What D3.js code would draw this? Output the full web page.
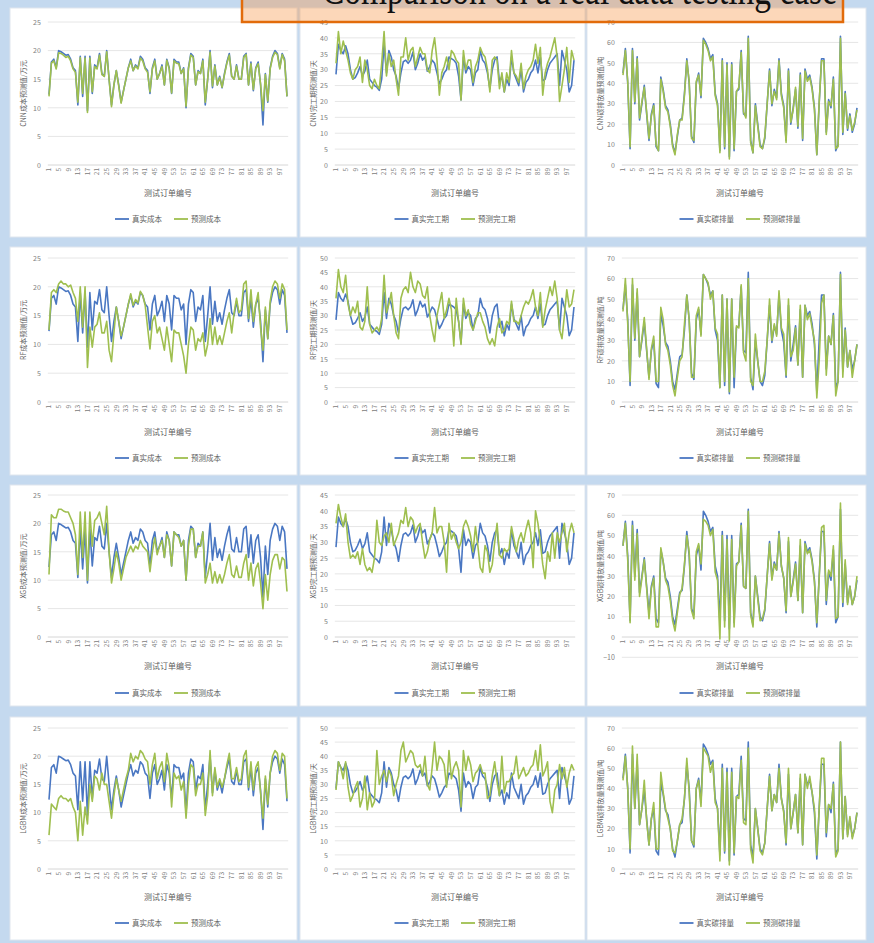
<!DOCTYPE html>
<html>
<head>
<meta charset="utf-8">
<script src="https://cdn.jsdelivr.net/npm/d3@7"></script>
<style>
  body { margin: 0; background: #c4d9ef; }
  svg { display: block; }
</style>
</head>
<body>
<svg id="chart" width="874" height="943"></svg>
<script>
// ---- categories and tick labels ----
const orderIds = d3.range(1, 101);
const xTickLabels = [1,5,9,13,17,21,25,29,33,37,41,45,49,53,57,61,65,69,73,77,81,85,89,93,97];
const models = ["CNN", "RF", "XGB", "LGBM"];
const metricNames = ["成本", "完工期", "碳排放量"];
const metricUnits = ["/万元", "/天", "/吨"];
const legendActual = ["真实成本", "真实完工期", "真实碳排量"];
const legendPred = ["预测成本", "预测完工期", "预测碳排量"];
const xAxisTitle = "测试订单编号";
const chartTitle = "Comparison on a real data testing case";

// y domains per [row][column]
const yDomains = [
  [[0, 25], [0, 45], [0, 70]],
  [[0, 25], [0, 50], [0, 70]],
  [[0, 25], [0, 45], [-10, 70]],
  [[0, 25], [0, 50], [0, 70]]
];
const yTickSteps = [5, 5, 10];

// ---- actual values (shared by all models) ----
const costActual = [12.3,18,18.5,17,20,19.8,19.5,19.2,19.3,18.5,17,16.5,10.5,19,12,19,9.5,19,12.5,17.5,17,19.5,16,15.5,20,15,10.5,14,16.5,14,11,13,15,17,18.5,16.5,17.5,17,19,18.5,17,16.5,12.5,17,18.5,15,16,17.5,14,18.5,17,12.5,18.5,18,18,16,17,10,17,19.5,19,14,16.5,16,18.5,10.5,15,20,13.5,17.5,14,15.5,13.5,16,18,19.5,15.5,15,17.5,15,15,19,19.5,14,18,13,17,18,14,7,16,11,17,19,20,19.5,17,19.5,18.5,12];
const durationActual = [28.5,38,36,35,37.5,35,30,27,27.5,29,31,28,29.5,33,27,26,25,24.5,23.5,27,38,29,36,34,30,28,24,29,32.5,33,32,33,35.5,30,32,35,33,34,29.5,31,33,32,29,25.5,27,29,30,34,33.5,33,32,28,20.5,34,29,31,30,25,29,30,36,33,32,29,24,30,33,34,26,28,23,27,25,34,29,27,25,30,23,26,27,29,30,33,29,34,26.5,27,30,32,33,34,35,25,36,33,30,23,25,33];
const carbonActual = [45,57,40,8,57,30,53,22,30,39,25,12,25,30,9,7,43,37,29,27,20,10,6,14,22,23,35,52,40,14,11,40,45,33,62,60,57,52,54,35,30,7,52,8,50,4,50,7,36,37,56,25,24,63,12,6,30,20,10,8,13,30,47,29,37,33,52,35,29,12,47,20,28,37,18,45,12,47,42,44,38,28,5,30,52,52,16,32,28,43,7,10,63,15,36,17,25,16,20,28];

// ---- predicted cost ----
const costCNN = [12,17.8,18.2,16.8,19.6,19.5,19.2,18.8,19,18.2,16.8,16.2,11,18.8,12.5,18.7,9.2,18.7,12.8,17.2,16.8,19.2,15.8,15.5,19.8,15,10.2,14,16.5,13.8,10.8,13,15,17,18.2,16.5,17.3,16.8,18.7,18.2,16.8,16.2,12.8,16.8,18.2,15,16,17.2,14,18.3,16.8,12.6,18.2,17.8,17.7,16,16.8,10.3,16.8,19.2,18.8,14,16.3,16,18.2,11,15,19.7,13.8,17.3,14,15.3,13.6,15.8,17.8,19.2,15.5,15,17.3,15,15,18.8,19.3,14,17.7,13.2,16.8,17.7,14.2,9.5,15.8,11.2,16.8,18.8,19.7,19.3,16.8,19.3,18.2,12];
const costRF = [12.5,19,19.5,19,20.5,21,20.5,20.5,20,20.3,19,18,14,20,13,20,6,13,9.5,13,13.5,15.5,12,12,14,9,7,12,16.5,14,11.5,13,15,17,18.8,16.8,17.8,17.2,19.2,18.5,16.8,13,9.2,14,15,12,13,11,9,13,10,7,12.5,12,12,10,8,5,10,13,12.5,9,11,10.5,12,8,10,14.5,10,13,10,11.5,10,12,14,15.5,12,15.5,18,15.5,16,20.5,21,14.5,19.5,14,17,19,13,9,16.5,11,17.5,20,21,20.5,18,20.5,19.5,12.5];
const costXGB = [11,21.5,21,21,22.5,22.5,22.2,22,22,21,20,18,11,22,14,22,10,22,16,20.5,21,22,20,18,23,15,9.5,12,15,13,10,12,14,15,16,15,16,15.5,17,16,15.5,15,11.5,15,17.5,14.5,16,17,14,18,17,12.5,18.5,18,17.5,16,17,10,16,19,19,14,16,16,18.5,9.5,11,13,9.5,11.5,9.5,11,9.5,11,13,14.5,11,10.5,12.5,10.5,10.5,13,14.5,10,13,9,12,13,9.5,5,11,6.5,11,13.5,14.5,14.5,12,14,13.5,8];
const costLGBM = [6,11.5,11,10.5,12.5,13,12.5,12.5,12,12.5,11,10,5,12,6,11,8,15,12,16.5,16,14,17,15,15,12,9,13,16,14,12,14,16,17.5,20.5,19,20,19.5,21,20.5,19.5,19,15,18.5,20.5,16,18,19,15.5,20.5,18,11,17,16,16.5,14,15.5,9,15,18.5,18,13,15,15,17,9.5,13,21,13,18,14.5,16,14.5,16,18.5,20.5,16,16,18,15.5,16,20,21,14.5,19,14,18,19,13.5,9,16.5,11.5,17,20,21,20.5,17.5,20.5,20,12.5];

// ---- predicted duration ----
const durationCNN = [32,42,35,39,36,33,29,27,30,31,34,26,33,30,25,24,27,25,24,32,42,28,35,31,33,27,22,34,34,40,33,36,37,31,34,37,35,35,30,29,36,40,33,22,29,31,34,30,36,35,33,32,20.5,36,30,33,33,26,31,33,37,35,34,30,23,33,34,33,24,29,23,29,26,36,29,28,26,32,24,28,30,31,33,38,32,37,22,29,32,34,37,40,34,20,25,30,37,26,36,33];
const durationRF = [36,46,40,38,44,34,30,33,31,35,26,25,28,40,27,24,25,26,24.5,29,44,31,34,38,30,24,22,36,39,40,38,45,40,38,42,41,37,36,40,30,25,21,30,34,38,29,32,36,32,19.5,36,28,20,36,30,32,27,25,28,31,31,28,26,22,20,22,19.5,26,29,24,25,28,27,35,28,28,27,30,33,35,34,36,39,33,30,38,26,32,36,40,37,42,36,25,22,30,39,33,34,39];
const durationXGB = [36,42,38,35,39,30,25,26,25,27,23,28,23,21,22,20.5,25,37,30,29,32,33,30,36,29,31,33,37,36,41,35,38,37,33,35,36,30,25,27,31,33,41,33,35,35,30,20.5,36,31,33,30,28,30,35,37,35,32,27,35,29,22,20.5,29,27,20.5,23,30,36,26,25,28,27,28,35,31,27,31,33,30,34,37,33,22,40,36,30,23,18.5,27,24,33,25,33,30,33,36,27,33,36,33];
const durationLGBM = [28,38,36,32,38,29,24,26,29,31,22,25,33,21,27,22,24,42,30,33,35,31,35,33,26,30,33,42,45,38,40,42,41,37,36,37,33,40,30,28,36,45,35,40,39,37,29,42,32,36,38,35,22,42,35,40,37,31,34,35,37,34,34,25,26,33,38,31,26,40,27,31,31,33,34,40,32,34,36,33,34,36,37,42,35,44,33,35,38,24,20,28,30,37,32,36,29,34,37,35];

// ---- predicted carbon emission ----
const carbonCNN = [44,56,41,9,56,31,52,23,31,38,26,13,24,29,10,7,42,36,28,26,19,9,5,15,22,22,34,51,41,13,12,41,44,34,61,59,56,51,53,34,29,6,51,9,49,3,49,8,36,38,55,26,23,62,11,6,29,19,9,8,14,30,46,30,36,32,51,34,28,11,46,21,27,38,19,44,13,46,41,43,37,27,5,31,51,51,15,31,29,42,8,9,62,16,35,18,24,17,21,27];
const carbonRF = [44,60,38,10,60,31,55,22,31,41,26,11,26,32,10,10,46,40,28,25,18,8,3,12,20,22,38,52,40,12,12,42,46,32,62,60,58,50,54,36,33,7,52,10,50,5,50,12,37,36,57,24,20,60,10,8,33,20,10,10,15,30,50,30,38,32,54,36,33,13,50,22,25,36,18,47,12,47,40,43,36,30,2,20,48,52,13,32,28,42,3,10,62,12,35,17,25,12,20,28];
const carbonXGB = [45,56,38,7,55,28,51,20,29,38,24,9,24,29,5,5,44,37,28,25,18,8,3,12,21,24,36,50,42,13,9,42,46,36,58,57,55,50,53,32,28,-1,50,5,48,-2,48,5,35,37,55,25,24,62,11,5,30,19,8,9,14,30,46,28,36,33,51,35,29,13,49,20,27,36,18,48,12,46,41,43,37,27,7,29,54,55,18,33,30,45,9,10,66,17,38,16,25,16,20,30];
const carbonLGBM = [44,56,40,10,61,30,57,22,30,44,24,12,25,33,10,10,48,38,30,25,20,9,8,14,22,25,35,55,38,14,12,40,44,31,60,58,56,48,53,33,30,4,50,9,48,2,48,8,36,35,54,23,22,60,10,3,30,20,9,7,13,30,46,29,37,33,50,35,28,13,50,20,28,37,18,47,12,47,40,46,38,30,7,30,55,55,18,32,30,42,6,9,63,15,36,16,26,15,20,28];

const actualByMetric = [costActual, durationActual, carbonActual];
const predicted = [
  [costCNN, durationCNN, carbonCNN],
  [costRF, durationRF, carbonRF],
  [costXGB, durationXGB, carbonXGB],
  [costLGBM, durationLGBM, carbonLGBM]
];

// ---- layout ----
const W = 874, H = 943;
const colX = [10, 300, 587], colW = [287, 285, 279];
const rowY = [8, 247, 485, 717], rowH = [229, 228, 221, 223];
const plotTopBot = [[14, 157], [11, 155], [10, 152], [11, 152]];
const plotLeftRight = [[39, 277], [36, 274], [36, 270]];
const xTitleY = [185, 185, 181, 180];
const legendY = [211, 211, 208, 206];

const BLUE = "#4a77c2", GREEN = "#9fbf4f";
const CJK = "'Noto Sans CJK SC', 'Noto Sans', sans-serif";

const svg = d3.select("#chart");
svg.append("rect").attr("width", W).attr("height", H).attr("fill", "#c4d9ef");

models.forEach((model, r) => {
  metricNames.forEach((metric, c) => {
    const g = svg.append("g").attr("transform", `translate(${colX[c]},${rowY[r]})`);
    g.append("rect")
      .attr("width", colW[c]).attr("height", rowH[r])
      .attr("fill", "#ffffff").attr("stroke", "#dfe6ee").attr("stroke-width", 1);

    const [top, bot] = plotTopBot[r];
    const [dMin, dMax] = yDomains[r][c];
    const x = d3.scalePoint().domain(orderIds).range(plotLeftRight[c]);
    const y = d3.scaleLinear().domain([0, dMax]).range([bot, top]);
    const half = x.step() / 2;
    const pL = x(1) - half, pR = x(100) + half;
    const tickVals = d3.range(dMin, dMax + 0.001, yTickSteps[c]);

    // horizontal gridlines
    g.append("g").selectAll("line").data(tickVals).join("line")
      .attr("x1", pL).attr("x2", pR)
      .attr("y1", d => y(d)).attr("y2", d => y(d))
      .attr("stroke", d => d === 0 ? "#d6d6d6" : "#e6e6e6")
      .attr("stroke-width", 1);

    // y tick labels
    const yAxis = d3.axisLeft(y).tickValues(tickVals).tickSize(0).tickPadding(7);
    const ya = g.append("g").attr("transform", `translate(${pL},0)`).call(yAxis);
    ya.select(".domain").remove();
    ya.selectAll("text").attr("font-family", CJK).attr("font-size", 7).attr("fill", "#808080");

    // y axis title
    g.append("text")
      .attr("transform", `translate(${14},${(top + bot) / 2}) rotate(-90)`)
      .attr("text-anchor", "middle").attr("dy", "0.35em")
      .attr("font-family", CJK).attr("font-size", 7).attr("fill", "#606060")
      .text(model + metric + "预测值" + metricUnits[c]);

    // category tick labels (rotated)
    g.append("g").selectAll("text").data(xTickLabels).join("text")
      .attr("transform", d => `translate(${x(d)},${y(0) + 3}) rotate(-90)`)
      .attr("text-anchor", "end").attr("dy", "0.35em")
      .attr("font-family", CJK).attr("font-size", 6.5).attr("fill", "#808080")
      .text(d => d);

    // x axis title
    g.append("text")
      .attr("x", (pL + pR) / 2).attr("y", xTitleY[r])
      .attr("text-anchor", "middle").attr("dy", "0.35em")
      .attr("font-family", CJK).attr("font-size", 8).attr("fill", "#606060")
      .text(xAxisTitle);

    // series lines
    const line = d3.line().x((d, i) => x(orderIds[i])).y(d => y(d));
    g.append("path").datum(actualByMetric[c])
      .attr("fill", "none").attr("stroke", BLUE).attr("stroke-width", 1.6)
      .attr("stroke-linejoin", "round").attr("d", line);
    g.append("path").datum(predicted[r][c])
      .attr("fill", "none").attr("stroke", GREEN).attr("stroke-width", 1.6)
      .attr("stroke-linejoin", "round").attr("d", line);

    // legend
    const lg = g.append("g");
    const items = [[legendActual[c], BLUE], [legendPred[c], GREEN]];
    let cx = 0;
    items.forEach(([label, color], k) => {
      lg.append("line").attr("x1", cx).attr("x2", cx + 14)
        .attr("y1", 0).attr("y2", 0).attr("stroke", color).attr("stroke-width", 1.8);
      const t = lg.append("text").attr("x", cx + 17).attr("y", 0).attr("dy", "0.35em")
        .attr("font-family", CJK).attr("font-size", 7.5).attr("fill", "#606060").text(label);
      cx += 17 + t.node().getComputedTextLength() + (k === 0 ? 12 : 0);
    });
    lg.attr("transform", `translate(${(pL + pR) / 2 - cx / 2},${legendY[r]})`);
  });
});

// title banner across the top
const banner = svg.append("g");
banner.append("rect")
  .attr("x", 242).attr("y", -40).attr("width", 601).attr("height", 62)
  .attr("fill", "rgba(247,150,70,0.38)")
  .attr("stroke", "#e26b0a").attr("stroke-width", 2.5);
banner.append("text")
  .attr("x", 322).attr("y", 4)
  .attr("textLength", 515).attr("lengthAdjust", "spacingAndGlyphs")
  .attr("font-family", "'Liberation Serif', serif").attr("font-size", 44)
  .attr("fill", "#111")
  .text(chartTitle);
</script>
</body>
</html>
